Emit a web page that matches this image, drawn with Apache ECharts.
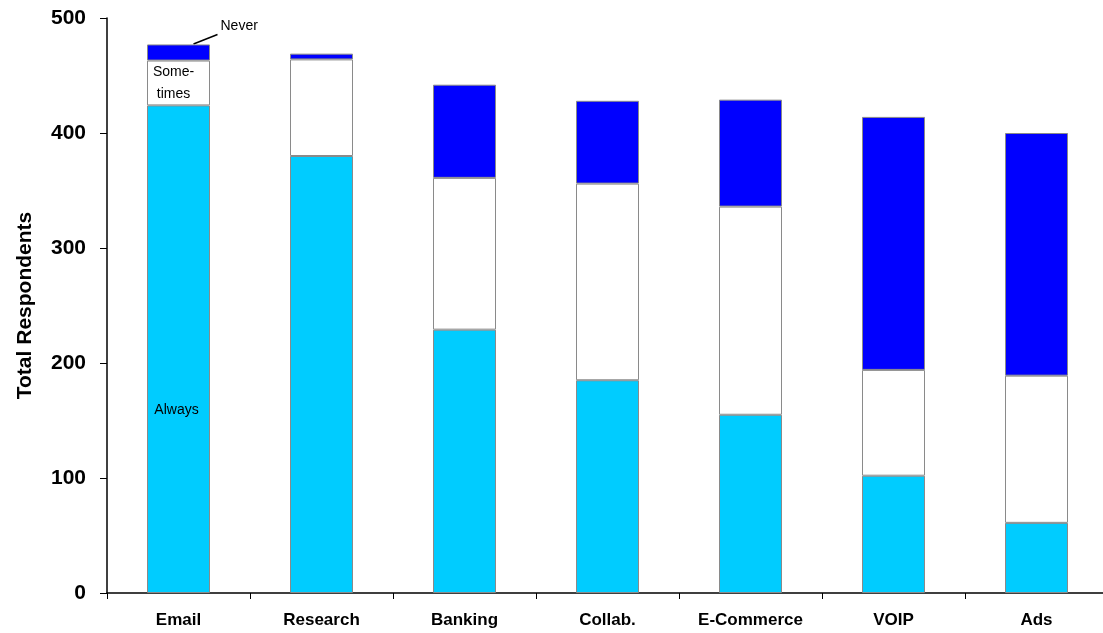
<!DOCTYPE html>
<html>
<head>
<meta charset="utf-8">
<style>
  html, body { margin: 0; padding: 0; background: #fff; }
  #chart { width: 1103px; height: 633px; }
</style>
<script src="https://cdn.jsdelivr.net/npm/echarts@6/dist/echarts.min.js"></script>
</head>
<body>
<div id="chart"></div>
<script>
const categories = ['Email', 'Research', 'Banking', 'Collab.', 'E-Commerce', 'VOIP', 'Ads']
const always = [424, 380, 229, 185, 155, 102, 61]
const sometimes = [39, 84, 132, 171, 181, 92, 128]
const never = [14, 5, 81, 72, 93, 220, 211]
const yTicks = [0, 100, 200, 300, 400, 500]

const font = 'Liberation Sans, Arial, sans-serif'
const border = { borderColor: '#8a8a8a', borderWidth: 1 }

// only the first bar carries the in-bar labels
function withLabel (values, label) {
  return values.map((v, i) => i === 0 ? { value: v, label: label } : v)
}

const myChart = echarts.init(document.getElementById('chart'))

const options = {
  animation: false,
  grid: {
    left: 107,
    width: 1001,
    top: 18,
    bottom: 40,
    containLabel: false,
    outerBoundsMode: 'none'
  },
  xAxis: {
    type: 'category',
    data: categories,
    axisLine: { lineStyle: { color: '#000', width: 1.5 } },
    axisTick: { show: true, length: 6, alignWithLabel: false, lineStyle: { color: '#000' } },
    axisLabel: {
      color: '#000',
      fontFamily: font,
      fontWeight: 'bold',
      fontSize: 17,
      margin: 19,
      interval: 0
    }
  },
  yAxis: {
    type: 'value',
    min: yTicks[0],
    max: yTicks[yTicks.length - 1],
    interval: 100,
    name: 'Total Respondents',
    nameLocation: 'middle',
    nameGap: 71,
    nameTextStyle: {
      color: '#000',
      fontFamily: font,
      fontWeight: 'bold',
      fontSize: 21
    },
    axisLine: { show: true, lineStyle: { color: '#000', width: 1.5 } },
    axisTick: { show: true, length: 7, lineStyle: { color: '#000' } },
    splitLine: { show: false },
    axisLabel: {
      color: '#000',
      fontFamily: font,
      fontWeight: 'bold',
      fontSize: 21,
      margin: 21
    }
  },
  series: [
    {
      name: 'Always',
      type: 'bar',
      stack: 'total',
      barWidth: 63,
      itemStyle: Object.assign({ color: '#00CCFF' }, border),
      data: withLabel(always, {
        show: true,
        formatter: 'Always',
        position: 'inside',
        offset: [-2, 61],
        color: '#000',
        fontFamily: font,
        fontSize: 14
      })
    },
    {
      name: 'Sometimes',
      type: 'bar',
      stack: 'total',
      barWidth: 63,
      itemStyle: Object.assign({ color: '#FFFFFF' }, border),
      data: withLabel(sometimes, {
        show: true,
        formatter: 'Some-\ntimes',
        position: 'inside',
        offset: [-5, 0],
        color: '#000',
        fontFamily: font,
        fontSize: 14,
        lineHeight: 22
      })
    },
    {
      name: 'Never',
      type: 'bar',
      stack: 'total',
      barWidth: 63,
      itemStyle: Object.assign({ color: '#0000FF' }, border),
      data: never
    }
  ]
}

myChart.setOption(options)

// leader line + "Never" text, anchored on the top of the Email bar
const emailTop = myChart.convertToPixel({ xAxisIndex: 0, yAxisIndex: 0 },
  [categories[0], always[0] + sometimes[0] + never[0]])
myChart.setOption({
  graphic: [
    {
      type: 'line',
      shape: { x1: emailTop[0] + 15, y1: emailTop[1] - 0.5, x2: emailTop[0] + 39, y2: emailTop[1] - 10 },
      style: { stroke: '#000', lineWidth: 1.5 }
    },
    {
      type: 'text',
      x: emailTop[0] + 42,
      y: emailTop[1] - 18,
      style: {
        text: 'Never',
        fill: '#000',
        font: '14px ' + font,
        textVerticalAlign: 'middle'
      }
    }
  ]
})
</script>
</body>
</html>
